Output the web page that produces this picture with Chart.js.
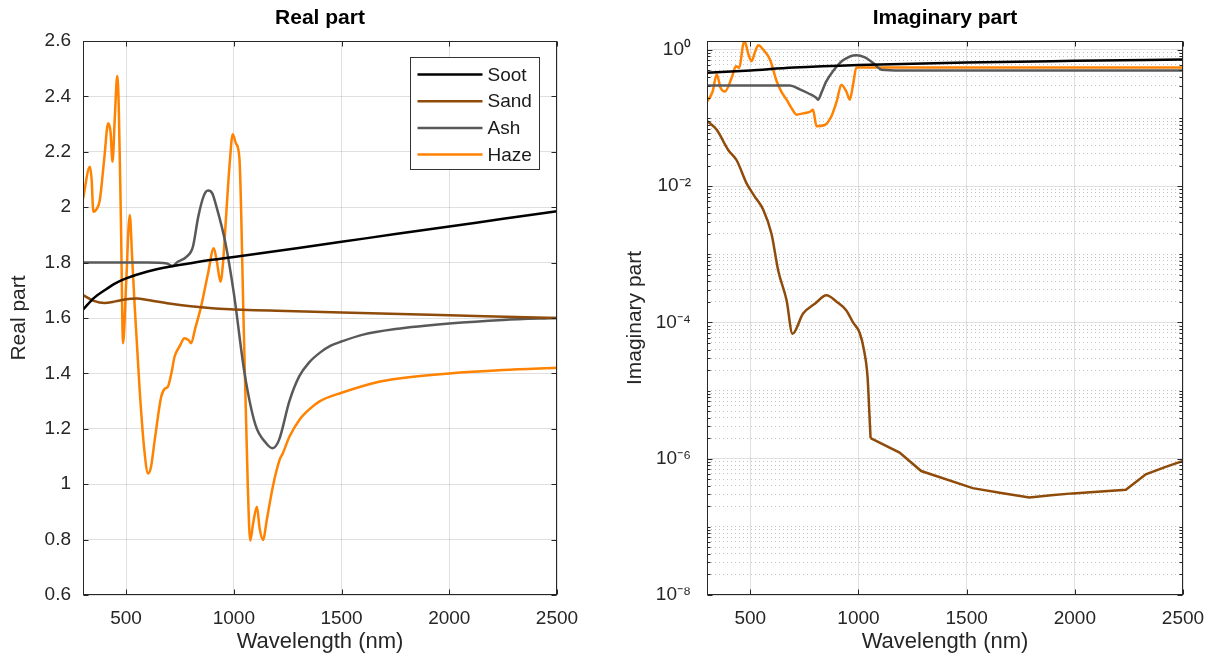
<!DOCTYPE html>
<html>
<head>
<meta charset="utf-8">
<title>Refractive index</title>
<script src="https://cdn.jsdelivr.net/npm/chart.js@4.4.1/dist/chart.umd.min.js"></script>
<style>
  html, body { margin: 0; padding: 0; background: #fff; }
  #wrap { position: relative; width: 1209px; height: 662px; }
  .pane { position: absolute; top: 0; }
  #paneReal { left: 0; }
  #paneImag { left: 600px; }
</style>
</head>
<body>
<div id="wrap">
  <div class="pane" id="paneReal"><canvas id="realChart" width="600" height="662"></canvas></div>
  <div class="pane" id="paneImag"><canvas id="imagChart" width="609" height="662"></canvas></div>
</div>
<script>
// aerosol refractive index, real and imaginary parts vs wavelength (nm)

const seriesNames = ['Soot', 'Sand', 'Ash', 'Haze'];
const seriesColors = ['#000000', '#8f4b0a', '#595959', '#ff8200'];

const xTicks = [500, 1000, 1500, 2000, 2500];
const realTicks = [0.6, 0.8, 1.0, 1.2, 1.4, 1.6, 1.8, 2.0, 2.2, 2.4, 2.6];
const imagDecades = [-8, -7, -6, -5, -4, -3, -2, -1, 0];

// --- real part ---
const realSootWl = [300, 350, 400, 450, 500, 600, 700, 800, 900, 1000, 1200, 1500, 1750, 2000, 2250, 2500];
const realSoot   = [1.63, 1.672, 1.70, 1.725, 1.743, 1.768, 1.785, 1.798, 1.81, 1.82, 1.842, 1.875, 1.903, 1.93, 1.958, 1.985];

const realSandWl = [300, 350, 400, 450, 500, 550, 600, 700, 800, 900, 1000, 1100, 1200, 1500, 2000, 2500];
const realSand   = [1.683, 1.662, 1.654, 1.660, 1.668, 1.670, 1.665, 1.652, 1.642, 1.635, 1.631, 1.628, 1.626, 1.620, 1.610, 1.600];

const realAshWl = [300, 400, 500, 600, 690, 715, 740, 780, 810, 835, 860, 880, 900, 920, 960, 1000, 1050, 1100, 1150, 1180, 1210, 1258, 1304, 1350, 1400, 1450, 1500, 1600, 1750, 2000, 2250, 2500];
const realAsh   = [1.80, 1.80, 1.80, 1.80, 1.797, 1.788, 1.803, 1.821, 1.857, 1.966, 2.04, 2.06, 2.05, 2.00, 1.875, 1.69, 1.40, 1.215, 1.148, 1.13, 1.16, 1.30, 1.39, 1.44, 1.475, 1.50, 1.515, 1.54, 1.56, 1.58, 1.593, 1.60];

const realHazeWl = [300, 332, 340, 348, 360, 378, 398, 417, 428, 437, 448, 459, 466, 476, 486, 500, 517, 528, 540, 563, 585, 602, 615, 633, 663, 680, 694, 710, 725, 750, 771, 790, 802, 820, 848, 880, 907, 922, 938, 950, 964, 980, 995, 1010, 1026, 1045, 1065, 1076, 1090, 1107, 1120, 1135, 1155, 1181, 1212, 1227, 1258, 1304, 1350, 1400, 1500, 1674, 1766, 2000, 2250, 2500];
const realHaze   = [2.03, 2.146, 2.10, 1.984, 1.99, 2.026, 2.17, 2.303, 2.27, 2.164, 2.33, 2.474, 2.363, 1.95, 1.509, 1.72, 1.972, 1.82, 1.641, 1.34, 1.12, 1.039, 1.06, 1.16, 1.316, 1.345, 1.352, 1.40, 1.46, 1.50, 1.527, 1.52, 1.509, 1.56, 1.641, 1.76, 1.852, 1.80, 1.731, 1.80, 1.966, 2.15, 2.263, 2.23, 2.176, 1.6, 0.991, 0.796, 0.86, 0.919, 0.84, 0.799, 0.88, 0.991, 1.087, 1.111, 1.171, 1.232, 1.27, 1.30, 1.33, 1.370, 1.382, 1.40, 1.412, 1.42];

// --- imaginary part ---
const imagSootWl = [300, 500, 700, 1000, 1500, 2000, 2500];
const imagSoot   = [0.46, 0.50, 0.55, 0.60, 0.655, 0.69, 0.72];

const imagSandWl = [300, 345, 398, 437, 483, 520, 560, 598, 629, 668, 695, 744, 800, 852, 900, 944, 975, 1006, 1025, 1042, 1050, 1056, 1190, 1290, 1528, 1660, 1790, 1890, 1990, 2236, 2328, 2420, 2500];
const imagSand   = [9.1e-2, 6.7e-2, 3.4e-2, 2.4e-2, 1.1e-2, 7.1e-3, 4.5e-3, 2.0e-3, 5.8e-4, 2.1e-4, 6.8e-5, 1.35e-4, 1.9e-4, 2.5e-4, 2.0e-4, 1.5e-4, 1.0e-4, 7.0e-5, 4.0e-5, 1.6e-5, 5.0e-6, 2.0e-6, 1.23e-6, 6.6e-7, 3.7e-7, 3.15e-7, 2.7e-7, 2.9e-7, 3.1e-7, 3.5e-7, 5.9e-7, 7.6e-7, 9.3e-7];
// past this wavelength the sand absorption tail is drawn with straight segments
const sandKneeWl = 1056;

const imagAshWl = [300, 500, 683, 729, 770, 806, 813, 830, 850, 883, 930, 990, 1030, 1067, 1106, 1200, 1500, 2000, 2500];
const imagAsh   = [0.30, 0.30, 0.30, 0.263, 0.229, 0.197, 0.186, 0.24, 0.339, 0.49, 0.708, 0.836, 0.776, 0.646, 0.513, 0.50, 0.50, 0.50, 0.50];

const imagHazeWl = [301, 326, 345, 363, 383, 414, 434, 449, 467, 475, 490, 506, 520, 537, 560, 591, 622, 645, 668, 690, 714, 744, 775, 790, 806, 844, 875, 900, 921, 944, 960, 975, 990, 1000, 1500, 2000, 2500];
const imagHaze   = [0.176, 0.245, 0.437, 0.275, 0.245, 0.389, 0.575, 0.543, 1.20, 1.32, 0.89, 0.68, 0.89, 1.17, 1.01, 0.72, 0.347, 0.24, 0.186, 0.141, 0.112, 0.117, 0.123, 0.132, 0.076, 0.079, 0.106, 0.178, 0.309, 0.245, 0.186, 0.309, 0.543, 0.55, 0.55, 0.55, 0.55];

const axisColor = '#262626';
const gridColor = 'rgba(38,38,38,0.14)';
const minorGridColor = 'rgba(38,38,38,0.28)';
const fontFamily = "'Liberation Sans', Arial, Helvetica, sans-serif";

Chart.defaults.font.family = fontFamily;
Chart.defaults.color = axisColor;

function pairs(xs, ys) {
  return xs.map((x, i) => ({ x: x, y: ys[i] }));
}

function lineSet(label, color, data) {
  return {
    label: label,
    data: data,
    borderColor: color,
    backgroundColor: color,
    borderWidth: 2.5,
    pointRadius: 0,
    cubicInterpolationMode: 'monotone',
    fill: false
  };
}

function makeSets(groups) {
  return groups.map((g, i) => lineSet(seriesNames[i], seriesColors[i], pairs(g[0], g[1])));
}

const superDigits = { '0': '⁰', '1': '¹', '2': '²', '3': '³', '4': '⁴', '5': '⁵', '6': '⁶', '7': '⁷', '8': '⁸', '9': '⁹', '-': '⁻' };

function isEvenDecade(v) {
  const e = Math.log10(v);
  const r = Math.round(e);
  return Math.abs(e - r) < 1e-9 && r % 2 === 0;
}

function logTickValues() {
  const out = [];
  imagDecades.forEach(e => {
    for (let m = 1; m <= 9; m++) {
      const v = m * Math.pow(10, e);
      if (e < 0 || m === 1) out.push(v);
    }
  });
  return out;
}

// box round the plot area with inward tick marks on all four sides
const boxAxes = {
  id: 'boxAxes',
  afterDraw(chart) {
    const { ctx, chartArea: a, scales } = chart;
    const L = Math.round(a.left) + 0.5, R = Math.round(a.right) - 0.5;
    const T = Math.round(a.top) + 0.5, B = Math.round(a.bottom) - 0.5;
    ctx.save();
    ctx.strokeStyle = axisColor;
    ctx.lineWidth = 1;
    ctx.beginPath();
    scales.x.ticks.forEach(t => {
      const px = Math.round(scales.x.getPixelForValue(t.value)) + 0.5;
      ctx.moveTo(px, B); ctx.lineTo(px, B - 5);
      ctx.moveTo(px, T); ctx.lineTo(px, T + 5);
    });
    const logY = scales.y.type === 'logarithmic';
    scales.y.ticks.forEach(t => {
      const len = (!logY || isEvenDecade(t.value)) ? 5 : 3;
      const py = Math.round(scales.y.getPixelForValue(t.value)) + 0.5;
      ctx.moveTo(L, py); ctx.lineTo(L + len, py);
      ctx.moveTo(R, py); ctx.lineTo(R - len, py);
    });
    ctx.stroke();
    ctx.strokeRect(L, T, R - L, B - T);
    ctx.restore();
  }
};

// legend box drawn in the upper right corner of the plot area
const cornerLegend = {
  id: 'cornerLegend',
  afterDraw(chart) {
    const { ctx, chartArea: a } = chart;
    const sets = chart.data.datasets;
    const boxW = 129, boxH = 112, rowH = 26.7;
    const x0 = Math.round(a.right - 18 - boxW) + 0.5;
    const y0 = Math.round(a.top + 16) + 0.5;
    ctx.save();
    ctx.fillStyle = '#ffffff';
    ctx.fillRect(x0, y0, boxW, boxH);
    ctx.strokeStyle = '#333333';
    ctx.lineWidth = 1;
    ctx.strokeRect(x0, y0, boxW, boxH);
    ctx.font = '19px ' + fontFamily;
    ctx.textBaseline = 'middle';
    ctx.textAlign = 'left';
    sets.forEach((ds, i) => {
      const y = y0 + 17 + i * rowH;
      ctx.strokeStyle = ds.borderColor;
      ctx.lineWidth = 2.5;
      ctx.beginPath();
      ctx.moveTo(x0 + 7, y);
      ctx.lineTo(x0 + 72, y);
      ctx.stroke();
      ctx.fillStyle = '#1a1a1a';
      ctx.fillText(ds.label, x0 + 77, y + 1);
    });
    ctx.restore();
  }
};

function xScale() {
  return {
    type: 'linear',
    min: 300,
    max: 2500,
    afterBuildTicks: s => { s.ticks = xTicks.map(v => ({ value: v })); },
    // fixed height; side room is handled by the layout padding instead
    afterFit: s => { s.height = 67; s.paddingLeft = 0; s.paddingRight = 0; },
    grid: { color: gridColor, drawTicks: false },
    border: { display: false },
    ticks: { color: axisColor, font: { size: 19 }, padding: 12, maxRotation: 0, autoSkip: false, callback: v => String(v) },
    title: { display: true, text: 'Wavelength (nm)', color: axisColor, font: { size: 22 }, padding: { top: 0, bottom: 7 } }
  };
}

// top axis that only carries the panel title, centred over the plot area
function titleScale(text) {
  return {
    type: 'linear',
    position: 'top',
    min: 300,
    max: 2500,
    afterFit: s => { s.height = 41; s.paddingLeft = 0; s.paddingRight = 0; },
    grid: { display: false, drawTicks: false },
    border: { display: false },
    ticks: { display: false },
    title: { display: true, text: text, color: '#000000', font: { size: 21, weight: 'bold' }, padding: { top: 6, bottom: 0 } }
  };
}

const realSets = makeSets([
  [realSootWl, realSoot],
  [realSandWl, realSand],
  [realAshWl, realAsh],
  [realHazeWl, realHaze]
]);

const imagSets = makeSets([
  [imagSootWl, imagSoot],
  [imagSandWl, imagSand],
  [imagAshWl, imagAsh],
  [imagHazeWl, imagHaze]
]);

// split sand: smooth part up to the knee, straight segments after it
const sandPts = imagSets[1].data;
const kneeIdx = imagSandWl.indexOf(sandKneeWl);
imagSets[1].data = sandPts.slice(0, kneeIdx + 1);
const sandTail = lineSet(seriesNames[1], seriesColors[1], sandPts.slice(kneeIdx));
sandTail.cubicInterpolationMode = 'default';
sandTail.tension = 0;
imagSets.splice(2, 0, sandTail);

new Chart(document.getElementById('realChart'), {
  type: 'line',
  data: { datasets: realSets },
  options: {
    responsive: false,
    animation: false,
    layout: { padding: { left: 0, right: 43, top: 0, bottom: 0 } },
    scales: {
      x: xScale(),
      xTop: titleScale('Real part'),
      y: {
        type: 'linear',
        min: 0.6,
        max: 2.6,
        afterBuildTicks: s => { s.ticks = realTicks.map(v => ({ value: v })); },
        afterFit: s => { s.width = 83; },
        grid: { color: gridColor, drawTicks: false },
        border: { display: false },
        ticks: { color: axisColor, font: { size: 19 }, padding: 12, callback: v => String(+v.toFixed(1)) },
        title: { display: true, text: 'Real part', color: axisColor, font: { size: 21 }, padding: { top: 7 } }
      }
    },
    plugins: {
      legend: { display: false },
      tooltip: { enabled: false },
      title: { display: false }
    }
  },
  plugins: [boxAxes, cornerLegend]
});

new Chart(document.getElementById('imagChart'), {
  type: 'line',
  data: { datasets: imagSets },
  options: {
    responsive: false,
    animation: false,
    layout: { padding: { left: 0, right: 26, top: 0, bottom: 0 } },
    scales: {
      x: xScale(),
      xTop: titleScale('Imaginary part'),
      y: {
        type: 'logarithmic',
        min: 1e-8,
        max: 1.35,
        afterBuildTicks: s => { s.ticks = logTickValues().map(v => ({ value: v })); },
        afterFit: s => { s.width = 107; },
        grid: {
          drawTicks: false,
          color: ctx => (ctx.tick && isEvenDecade(ctx.tick.value)) ? gridColor : minorGridColor
        },
        border: {
          display: false,
          dash: ctx => (ctx.tick && !isEvenDecade(ctx.tick.value)) ? [1, 3] : []
        },
        ticks: {
          color: axisColor,
          font: { size: 19 },
          padding: 16,
          autoSkip: false,
          callback: v => {
            if (!isEvenDecade(v)) return '';
            const e = Math.round(Math.log10(v));
            return '10' + String(e).split('').map(c => superDigits[c]).join('');
          }
        },
        title: { display: true, text: 'Imaginary part', color: axisColor, font: { size: 21 }, padding: { top: 23 } }
      }
    },
    plugins: {
      legend: { display: false },
      tooltip: { enabled: false },
      title: { display: false }
    }
  },
  plugins: [boxAxes]
});
</script>
</body>
</html>
